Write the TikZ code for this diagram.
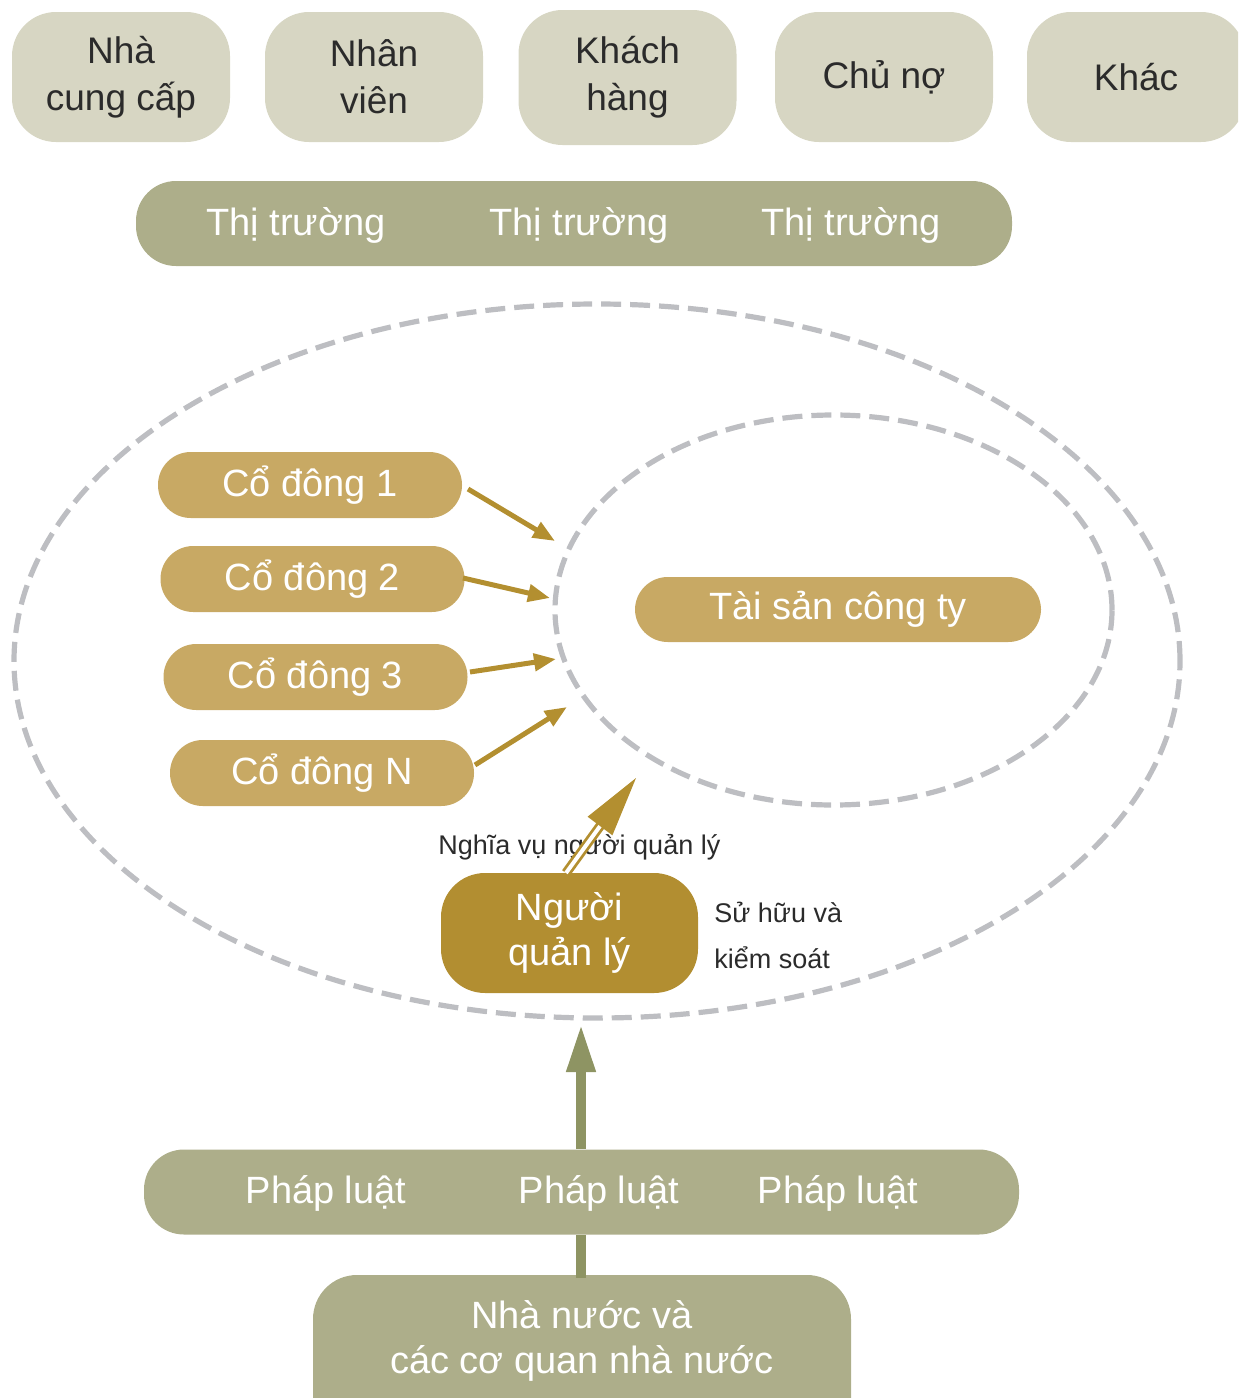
\documentclass[tikz,border=0pt]{standalone}
\usepackage{fontspec}
\setmainfont{Liberation Sans}
\usetikzlibrary{arrows.meta,calc}
\definecolor{topfill}{HTML}{D7D6C3}
\definecolor{barfill}{HTML}{ADAE8A}
\definecolor{holder}{HTML}{C8A964}
\definecolor{mgrfill}{HTML}{B28E31}
\definecolor{arrgold}{HTML}{B38F30}
\definecolor{arrgreen}{HTML}{8E9463}
\definecolor{dashgray}{HTML}{BDBEC2}
\definecolor{darktext}{HTML}{2B2B2B}
\begin{document}
\begin{tikzpicture}[x=0.5pt,y=-0.5pt,
  topbox/.style={fill=topfill, rounded corners=22pt, minimum width=109pt, minimum height=65pt, inner sep=0pt, align=center, text=darktext, font=\fontsize{18.5}{23.5}\selectfont},
  barbox/.style={fill=barfill, rounded corners=20pt, minimum height=42.5pt, inner sep=0pt},
  bartext/.style={text=white, font=\fontsize{19}{22.5}\selectfont, inner sep=0pt, yshift=-1.5pt},
  holderbox/.style={fill=holder, rounded corners=16.4pt, minimum width=152pt, minimum height=33pt, inner sep=0pt, text=white, font=\fontsize{19}{22.5}\selectfont},
  mgrbox/.style={fill=mgrfill, rounded corners=22pt, minimum width=128.5pt, minimum height=60pt, inner sep=0pt, align=center, text=white, font=\fontsize{19}{22.5}\selectfont},
  dashring/.style={draw=dashgray, line width=2.6pt, dash pattern=on 10pt off 4.5pt},
  goldarrow/.style={draw=arrgold, line width=2.5pt, -{Triangle[length=11pt,width=8.5pt]}},
  smalltext/.style={text=darktext, font=\fontsize{13.5}{23}\selectfont, inner sep=0pt, align=left}
]
\useasboundingbox (0,0) rectangle (1238,1398);
\clip (0,0) rectangle (1238,1398);

% top stakeholder boxes
\node[topbox] (sup) at (121,77) {Nhà\\cung cấp};
\node[topbox] (emp) at (374,77) {Nhân\\viên};
\node[topbox, minimum height=67.5pt] (cus) at (627.5,77.5) {Khách\\hàng};
\node[topbox] (cre) at (884,77) {Chủ nợ};
\node[topbox] (oth) at (1136,77) {Khác};

% market bar
\node[barbox, minimum width=438pt] (market) at (574,223.5) {};
\node[bartext] (m1) at (296,222) {Thị trường};
\node[bartext] (m2) at (579,222) {Thị trường};
\node[bartext] (m3) at (851,222) {Thị trường};

% dashed ellipses
\draw[dashring] (597,661) ellipse [x radius=291.5pt, y radius=178.5pt];
\draw[dashring] (833.5,610) ellipse [x radius=139.25pt, y radius=97.5pt];

% shareholders
\node[holderbox] (h1) at (310,485) {\raisebox{-1pt}{Cổ đông 1}};
\node[holderbox] (h2) at (312.5,579) {\raisebox{-1pt}{Cổ đông 2}};
\node[holderbox] (h3) at (315.5,677) {\raisebox{-1pt}{Cổ đông 3}};
\node[holderbox] (hn) at (322,773) {\raisebox{-1pt}{Cổ đông N}};

% company assets
\node[holderbox, minimum width=203pt, minimum height=32.5pt] (assets) at (838,609.5) {\raisebox{-1pt}{Tài sản công ty}};

% arrow ends
\coordinate (e1) at (555,541);
\coordinate (e2) at (550,598);
\coordinate (e3) at (556,659);
\coordinate (en) at (567,707);
\coordinate (s1) at (468,489);
\coordinate (s2) at (463,578);
\coordinate (s3) at (470,672);
\coordinate (sn) at (475,765);
\draw[goldarrow] (s1) -- (e1);
\draw[goldarrow] (s2) -- (e2);
\draw[goldarrow] (s3) -- (e3);
\draw[goldarrow] (sn) -- (en);

% manager
\node[mgrbox] (mgr) at (569.5,933) {Người\\quản lý};
\node[smalltext, anchor=west] (duty) at (438,847) {Nghĩa vụ người quản lý};
\node[smalltext, anchor=west] (own) at (714,935) {Sử hữu và\\kiểm soát};

% double arrow from manager
\coordinate (dstart) at (566,873);
\coordinate (dbase) at (603,822);
\coordinate (dtip) at (636,778);
\draw[draw=arrgold, line width=1.4pt, double=white, double distance=2pt] (dstart) -- (dbase);
\fill[arrgold] (dtip) -- (587.6,816.7) -- (612.4,835.3) -- cycle;

% law bar
\node[barbox, minimum width=437.5pt] (law) at (581.5,1192) {};
\node[bartext] (l1) at (326,1190) {Pháp luật};
\node[bartext] (l2) at (599,1190) {Pháp luật};
\node[bartext] (l3) at (838,1190) {Pháp luật};

% state box (cut at bottom)
\fill[barfill, rounded corners=22pt] (313,1275) rectangle (851,1460);
\node[bartext, align=center, minimum width=269pt, minimum height=63pt] (gov) at (582,1338) {Nhà nước và\\các cơ quan nhà nước};

% green connectors
\coordinate (gtip) at (581,1024);
\draw[draw=arrgreen, line width=5pt, -{Triangle[length=24pt,width=13.5pt]}] (law.north -| gtip) -- (gtip);
\draw[draw=arrgreen, line width=5pt] (gov.north -| gtip) -- (law.south -| gtip);
\end{tikzpicture}
\end{document}
